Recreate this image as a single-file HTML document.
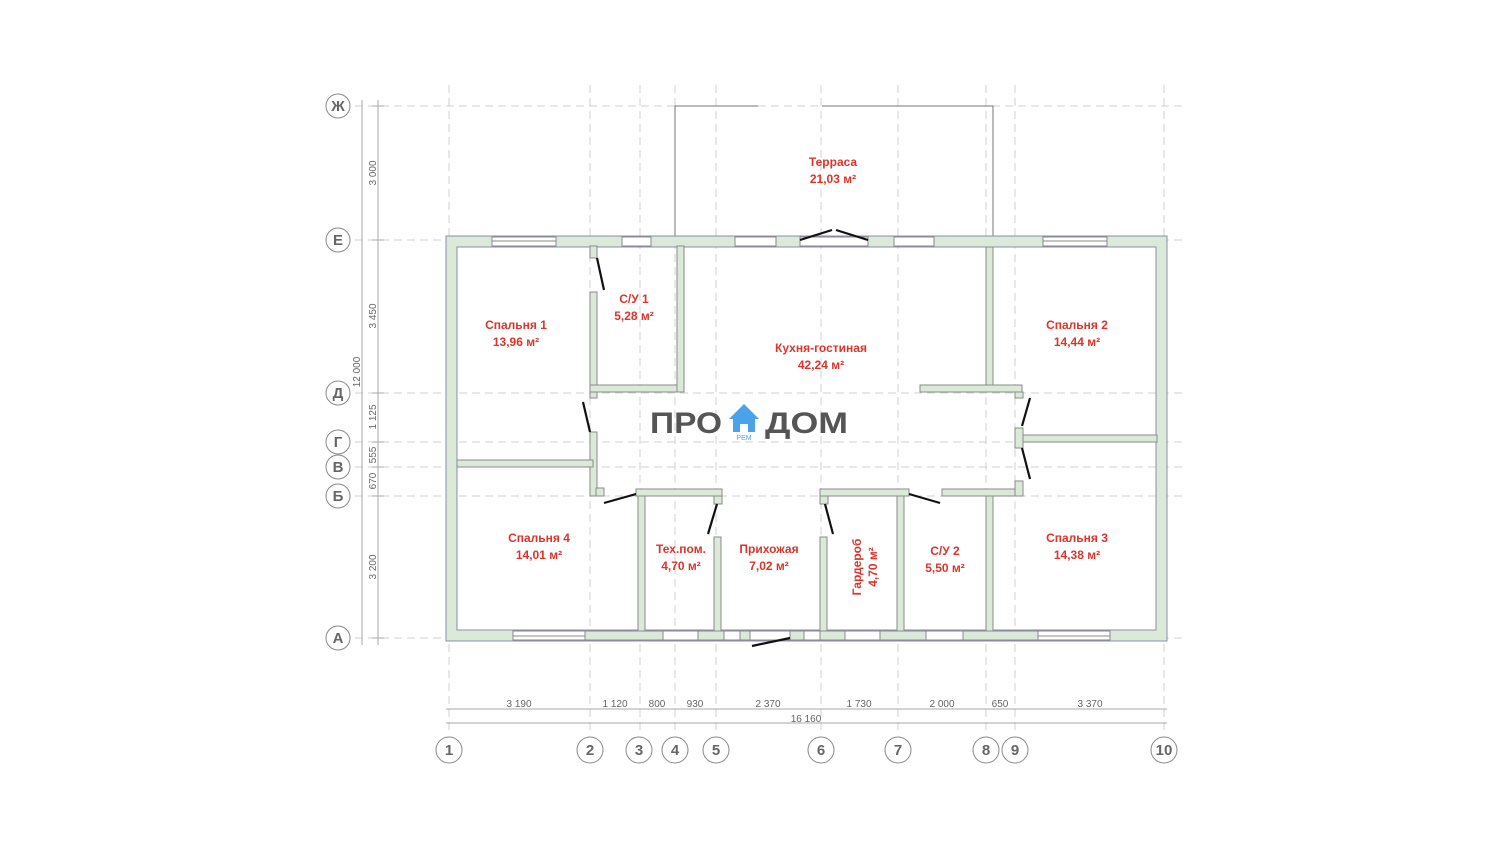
<!DOCTYPE html>
<html><head><meta charset="utf-8"><style>
html,body{margin:0;padding:0;background:#fff;width:1500px;height:844px;overflow:hidden}
svg{display:block}
.g{stroke:#d2d2d2;stroke-width:1;stroke-dasharray:8 5;fill:none}
.w{fill:#dbe9d8;stroke:#8a8a8a;stroke-width:1}
.win{fill:#fff;stroke:#8a8a8a;stroke-width:1}
.lab{font-family:"Liberation Sans",sans-serif;font-weight:bold;font-size:12px;fill:#d9352c;text-anchor:middle}
.ax{font-family:"Liberation Sans",sans-serif;font-size:15px;fill:#666;text-anchor:middle;font-weight:bold}
.dim{font-family:"Liberation Sans",sans-serif;font-size:10px;fill:#666;text-anchor:middle}
.dl{stroke:#aaa;stroke-width:1}
.door{stroke:#111;stroke-width:2.2}
</style></head><body>
<svg width="1500" height="844" viewBox="0 0 1500 844" xmlns="http://www.w3.org/2000/svg">
<g class="g">
<line x1="355" y1="106" x2="1185" y2="106"/>
<line x1="355" y1="240" x2="1185" y2="240"/>
<line x1="355" y1="393" x2="1185" y2="393"/>
<line x1="355" y1="442" x2="1185" y2="442"/>
<line x1="355" y1="467" x2="1185" y2="467"/>
<line x1="355" y1="496" x2="1185" y2="496"/>
<line x1="355" y1="638" x2="1185" y2="638"/>
<line x1="449" y1="85" x2="449" y2="735"/>
<line x1="590" y1="85" x2="590" y2="735"/>
<line x1="640" y1="85" x2="640" y2="735"/>
<line x1="675" y1="85" x2="675" y2="735"/>
<line x1="716" y1="85" x2="716" y2="735"/>
<line x1="821" y1="85" x2="821" y2="735"/>
<line x1="898" y1="85" x2="898" y2="735"/>
<line x1="986" y1="85" x2="986" y2="735"/>
<line x1="1015" y1="85" x2="1015" y2="735"/>
<line x1="1164" y1="85" x2="1164" y2="735"/>
</g>
<g stroke="#777" stroke-width="1" fill="none">
<polyline points="675,236 675,106 758,106"/>
<polyline points="822,106 993,106 993,236"/>
</g>
<path class="w" d="M446,236 H1167 V641 H446 Z M457,247 V630 H1156 V247 Z" fill-rule="evenodd" style="stroke:#8c8cb0"/>
<g class="win">
<rect x="492" y="237" width="64" height="9"/><rect x="622" y="237" width="29" height="9"/>
<rect x="735" y="237" width="41" height="9"/><rect x="800" y="237" width="68" height="9"/>
<rect x="894" y="237" width="40" height="9"/><rect x="1043" y="237" width="64" height="9"/>
<rect x="513" y="631" width="72" height="9"/><rect x="662" y="631" width="36" height="9"/>
<rect x="724" y="631" width="16" height="9"/><rect x="750" y="631" width="40" height="9"/>
<rect x="804" y="631" width="16" height="9"/><rect x="845" y="631" width="35" height="9"/>
<rect x="926" y="631" width="37" height="9"/><rect x="1038" y="631" width="72" height="9"/>
</g>
<g stroke="#888" stroke-width="1"><line x1="492" y1="241" x2="556" y2="241"/><line x1="1043" y1="241" x2="1107" y2="241"/><line x1="513" y1="636" x2="585" y2="636"/><line x1="1038" y1="636" x2="1110" y2="636"/></g>
<g class="w">
<rect x="590" y="246" width="7" height="12"/>
<rect x="590" y="292" width="7" height="106"/>
<rect x="590" y="385" width="93" height="7"/>
<rect x="677" y="246" width="7" height="146"/>
<rect x="590" y="432" width="7" height="64"/>
<rect x="457" y="460" width="136" height="7"/>
<rect x="596" y="488" width="8" height="8"/>
<rect x="636" y="489" width="86" height="7"/>
<rect x="638" y="496" width="7" height="135"/>
<rect x="714" y="496" width="8" height="8"/>
<rect x="714" y="537" width="7" height="94"/>
<rect x="820" y="489" width="89" height="7"/>
<rect x="820" y="496" width="8" height="8"/>
<rect x="820" y="537" width="7" height="94"/>
<rect x="897" y="496" width="7" height="135"/>
<rect x="942" y="489" width="80" height="7"/>
<rect x="986" y="496" width="7" height="135"/>
<rect x="1015" y="481" width="8" height="15"/>
<rect x="986" y="247" width="7" height="140"/>
<rect x="920" y="385" width="102" height="7"/>
<rect x="1015" y="392" width="8" height="6"/>
<rect x="1015" y="428" width="8" height="20"/>
<rect x="1023" y="435" width="134" height="7"/>
<rect x="585" y="631" width="78" height="9"/>
<rect x="698" y="631" width="26" height="9"/>
<rect x="740" y="631" width="10" height="9"/>
<rect x="790" y="631" width="14" height="9"/>
<rect x="820" y="631" width="25" height="9"/>
<rect x="880" y="631" width="46" height="9"/>
<rect x="963" y="631" width="75" height="9"/>
</g>
<g class="door">
<line x1="597" y1="258" x2="604" y2="290"/>
<line x1="583" y1="402" x2="590" y2="432"/>
<line x1="604" y1="503" x2="636" y2="494"/>
<line x1="717" y1="504" x2="708" y2="534"/>
<line x1="825" y1="504" x2="833" y2="534"/>
<line x1="909" y1="494" x2="940" y2="503"/>
<line x1="1030" y1="398" x2="1022" y2="426"/>
<line x1="1022" y1="448" x2="1030" y2="479"/>
<line x1="752" y1="646" x2="790" y2="638"/>
<line x1="800" y1="240" x2="832" y2="230"/>
<line x1="836" y1="230" x2="868" y2="240"/>
</g>
<text class="lab" x="833" y="166">Терраса</text><text class="lab" x="833" y="183">21,03 м²</text>
<text class="lab" x="516" y="329">Спальня 1</text><text class="lab" x="516" y="346">13,96 м²</text>
<text class="lab" x="634" y="303">С/У 1</text><text class="lab" x="634" y="320">5,28 м²</text>
<text class="lab" x="821" y="352">Кухня-гостиная</text><text class="lab" x="821" y="369">42,24 м²</text>
<text class="lab" x="1077" y="329">Спальня 2</text><text class="lab" x="1077" y="346">14,44 м²</text>
<text class="lab" x="539" y="542">Спальня 4</text><text class="lab" x="539" y="559">14,01 м²</text>
<text class="lab" x="681" y="553">Тех.пом.</text><text class="lab" x="681" y="570">4,70 м²</text>
<text class="lab" x="769" y="553">Прихожая</text><text class="lab" x="769" y="570">7,02 м²</text>
<text class="lab" x="945" y="555">С/У 2</text><text class="lab" x="945" y="572">5,50 м²</text>
<text class="lab" x="1077" y="542">Спальня 3</text><text class="lab" x="1077" y="559">14,38 м²</text>
<text class="lab" transform="translate(861,567) rotate(-90)">Гардероб</text>
<text class="lab" transform="translate(877,567) rotate(-90)">4,70 м²</text>
<text x="650" y="433" font-family="Liberation Sans,sans-serif" font-weight="bold" font-size="30" fill="#555" textLength="72" lengthAdjust="spacingAndGlyphs">ПРО</text>
<text x="765" y="433" font-family="Liberation Sans,sans-serif" font-weight="bold" font-size="30" fill="#555" textLength="83" lengthAdjust="spacingAndGlyphs">ДОМ</text>
<path d="M729,419 L744,404 L759,419 L755,419 L755,432 L748,432 L748,424 L740,424 L740,432 L733,432 L733,419 Z" fill="#4aa3e8"/>
<text x="744" y="440" font-family="Liberation Sans,sans-serif" font-size="7" fill="#4aa3e8" text-anchor="middle">РЕМ</text>
<g class="dl"><line x1="378" y1="100" x2="378" y2="645"/><line x1="362" y1="100" x2="362" y2="645"/>
<line x1="372" y1="106" x2="384" y2="106"/><line x1="372" y1="240" x2="384" y2="240"/><line x1="372" y1="393" x2="384" y2="393"/><line x1="372" y1="442" x2="384" y2="442"/><line x1="372" y1="467" x2="384" y2="467"/><line x1="372" y1="496" x2="384" y2="496"/><line x1="372" y1="638" x2="384" y2="638"/></g>
<g class="dim">
<text transform="translate(376,173) rotate(-90)">3 000</text>
<text transform="translate(376,316) rotate(-90)">3 450</text>
<text transform="translate(376,417) rotate(-90)">1 125</text>
<text transform="translate(376,455) rotate(-90)">555</text>
<text transform="translate(376,481) rotate(-90)">670</text>
<text transform="translate(376,567) rotate(-90)">3 200</text>
<text transform="translate(360,372) rotate(-90)">12 000</text>
</g>
<g class="dl"><line x1="446" y1="709" x2="1167" y2="709"/><line x1="446" y1="723" x2="1167" y2="723"/></g>
<g class="dim">
<text x="519" y="707">3 190</text><text x="615" y="707">1 120</text><text x="657" y="707">800</text>
<text x="695" y="707">930</text><text x="768" y="707">2 370</text><text x="859" y="707">1 730</text>
<text x="942" y="707">2 000</text><text x="1000" y="707">650</text><text x="1090" y="707">3 370</text>
<text x="806" y="722">16 160</text>
</g>
<g fill="#fff" stroke="#888" stroke-width="1">
<circle cx="338" cy="106" r="12"/><circle cx="338" cy="240" r="12"/><circle cx="338" cy="393" r="12"/>
<circle cx="338" cy="442" r="12"/><circle cx="338" cy="467" r="12"/><circle cx="338" cy="496" r="12"/><circle cx="338" cy="638" r="12"/>
<circle cx="449" cy="750" r="13"/><circle cx="590" cy="750" r="13"/><circle cx="639" cy="750" r="13"/><circle cx="675" cy="750" r="13"/>
<circle cx="716" cy="750" r="13"/><circle cx="821" cy="750" r="13"/><circle cx="898" cy="750" r="13"/><circle cx="986" cy="750" r="13"/>
<circle cx="1015" cy="750" r="13"/><circle cx="1164" cy="750" r="13"/>
</g>
<g class="ax">
<text x="338" y="111">Ж</text><text x="338" y="245">Е</text><text x="338" y="398">Д</text><text x="338" y="447">Г</text>
<text x="338" y="472">В</text><text x="338" y="501">Б</text><text x="338" y="643">А</text>
<text x="449" y="755">1</text><text x="590" y="755">2</text><text x="639" y="755">3</text><text x="675" y="755">4</text>
<text x="716" y="755">5</text><text x="821" y="755">6</text><text x="898" y="755">7</text><text x="986" y="755">8</text>
<text x="1015" y="755">9</text><text x="1164" y="755">10</text>
</g>
</svg>
</body></html>
